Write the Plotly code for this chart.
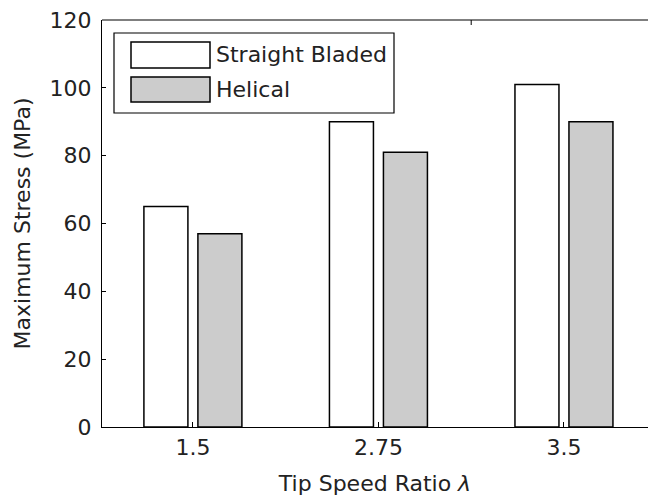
import plotly.graph_objects as go

categories = ["1.5", "2.75", "3.5"]
series_names = ["Straight Bladed", "Helical"]
straight_bladed = [65, 90, 101]
helical = [57, 81, 90]
y_ticks = [0, 20, 40, 60, 80, 100, 120]

FONT = "DejaVu Sans, Liberation Sans, Arial, sans-serif"
FS = 22
fills = ["#ffffff", "#cccccc"]

fig = go.Figure()
for name, vals, col in zip(series_names, [straight_bladed, helical], fills):
    fig.add_trace(go.Bar(
        x=categories, y=vals, name=name,
        marker=dict(color=col, line=dict(color="#000000", width=1.5)),
        showlegend=False,
    ))

W, H = 648, 500
ml, mt, mb, mr = 102, 20, 73, 0
pw, ph = W - ml - mr, H - mt - mb

def px(xp):
    return (xp - ml) / pw

def py(yp):
    return (H - mb - yp) / ph

# top frame line and mirrored ticks (MATLAB box)
shapes = [dict(type="line", xref="paper", yref="paper", x0=0, x1=1, y0=1, y1=1,
               line=dict(color="#000", width=1.2))]
for c in categories:
    shapes.append(dict(type="line", xref="x", yref="paper", x0=c, x1=c, y0=1, y1=1 - 5 / ph,
                       line=dict(color="#000", width=1)))

# custom legend (MATLAB style wide swatches)
shapes.append(dict(type="rect", xref="paper", yref="paper", x0=px(114), x1=px(394), y0=py(113), y1=py(33),
                   line=dict(color="#000", width=1.2), fillcolor="#fff", layer="above"))
rows = [(42, 68, 55), (77, 102, 90)]
annotations = []
for (top, bot, mid), name, col in zip(rows, series_names, fills):
    shapes.append(dict(type="rect", xref="paper", yref="paper", x0=px(131), x1=px(210),
                       y0=py(bot), y1=py(top), line=dict(color="#000", width=1.5),
                       fillcolor=col, layer="above"))
    annotations.append(dict(xref="paper", yref="paper", x=px(214), y=py(mid), text=name,
                            showarrow=False, xanchor="left", yanchor="middle",
                            font=dict(family=FONT, size=FS, color="#222")))

fig.update_layout(
    width=W, height=H,
    margin=dict(l=ml, r=mr, t=mt, b=mb, autoexpand=False),
    paper_bgcolor="white", plot_bgcolor="white",
    barmode="group", bargap=0.418, bargroupgap=0.185,
    font=dict(family=FONT, size=FS, color="#222"),
    shapes=shapes, annotations=annotations,
    xaxis=dict(
        type="category", range=[-0.49, 2.453], automargin=False,
        showline=True, linecolor="#000", linewidth=1.2,
        ticks="inside", ticklen=5, tickcolor="#000", tickwidth=1,
        showgrid=False, zeroline=False,
        title=dict(text="Tip Speed Ratio <i>λ</i>", standoff=17, font=dict(size=FS)),
        tickfont=dict(size=FS),
    ),
    yaxis=dict(
        range=[0, 120], tickvals=y_ticks, ticktext=[str(v) for v in y_ticks],
        automargin=False,
        showline=True, linecolor="#000", linewidth=1.2,
        ticks="inside", ticklen=4, tickcolor="#000", tickwidth=1,
        ticklabelstandoff=5,
        showgrid=False, zeroline=False,
        title=dict(text="Maximum Stress (MPa)", standoff=12, font=dict(size=FS)),
        tickfont=dict(size=FS),
    ),
)

fig.write_html(
    "out.html",
    config={"displayModeBar": False},
    post_script="document.body.style.margin='0';document.documentElement.style.overflow='hidden';document.body.style.overflow='hidden';",
)
